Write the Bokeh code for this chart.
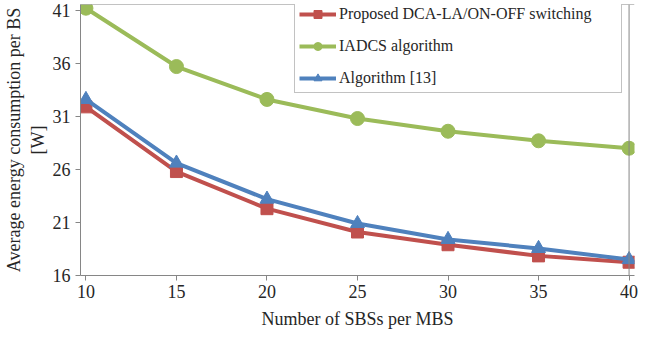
from bokeh.plotting import figure
from bokeh.models import Range1d, Span, FixedTicker
from bokeh.embed import file_html
from bokeh.resources import INLINE

x_vals = [10, 15, 20, 25, 30, 35, 40]
proposed = [31.9, 25.8, 22.3, 20.1, 18.9, 17.85, 17.25]
iadcs = [41.2, 35.7, 32.6, 30.8, 29.6, 28.7, 28.0]
alg13 = [32.6, 26.6, 23.2, 20.9, 19.4, 18.55, 17.5]
x_ticks = [10, 15, 20, 25, 30, 35, 40]
y_ticks = [16, 21, 26, 31, 36, 41]

FONT = "Liberation Serif"
TXT = "#262626"
AX = "#868686"

p = figure(width=644, height=331, output_backend="svg", toolbar_location=None,
           x_range=Range1d(9.7, 40.3), y_range=Range1d(16, 41.55),
           min_border_left=80, min_border_right=10, min_border_top=4, min_border_bottom=54)
p.outline_line_color = None
p.grid.visible = False
p.background_fill_color = "white"

for ax in (p.xaxis[0], p.yaxis[0]):
    ax.axis_line_color = AX
    ax.major_tick_line_color = AX
    ax.major_tick_in = 0
    ax.major_tick_out = 5
    ax.minor_tick_line_color = None
    ax.major_label_text_font = FONT
    ax.major_label_text_font_size = "18px"
    ax.major_label_text_color = TXT
    ax.axis_label_text_font = FONT
    ax.axis_label_text_font_size = "18px"
    ax.axis_label_text_font_style = "normal"
    ax.axis_label_text_color = TXT

p.xaxis.ticker = FixedTicker(ticks=x_ticks)
p.yaxis.ticker = FixedTicker(ticks=y_ticks)
p.xaxis.axis_label = "Number of SBSs per MBS"
p.yaxis.axis_label = "Average energy consumption per BS\n[W]"
p.xaxis.major_label_standoff = 4
p.yaxis.major_label_standoff = 5
p.xaxis.axis_label_standoff = 8
p.yaxis.axis_label_standoff = 2

p.add_layout(Span(location=40, dimension="height", line_color=AX, line_width=1))
p.add_layout(Span(location=41.55, dimension="width", line_color=AX, line_width=1))

red, green, blue = "#C0504D", "#9BBB59", "#4F81BD"
lbl1 = "Proposed DCA-LA/ON-OFF switching"
lbl2 = "IADCS algorithm"
lbl3 = "Algorithm [13]"

p.line(x_vals, proposed, color=red, line_width=4, legend_label=lbl1)
p.scatter(x_vals, proposed, marker="square", size=12, color=red, legend_label=lbl1)
p.line(x_vals, iadcs, color=green, line_width=4, legend_label=lbl2)
p.scatter(x_vals, iadcs, marker="circle", size=14, color=green, legend_label=lbl2)
p.line(x_vals, alg13, color=blue, line_width=4, legend_label=lbl3)
p.scatter(x_vals, alg13, marker="triangle", size=14, color=blue, legend_label=lbl3)

lg = p.legend[0]
lg.location = (214, 182)
lg.label_text_font = FONT
lg.label_text_font_size = "16px"
lg.label_text_color = TXT
lg.glyph_width = 37
lg.glyph_height = 20
lg.label_height = 20
lg.label_width = 278
lg.label_standoff = 3
lg.spacing = 12
lg.padding = 4
lg.margin = 0
lg.border_line_color = AX
lg.border_line_width = 1
lg.background_fill_color = "white"
lg.background_fill_alpha = 1

open("out.html", "w").write(file_html(p, INLINE))
